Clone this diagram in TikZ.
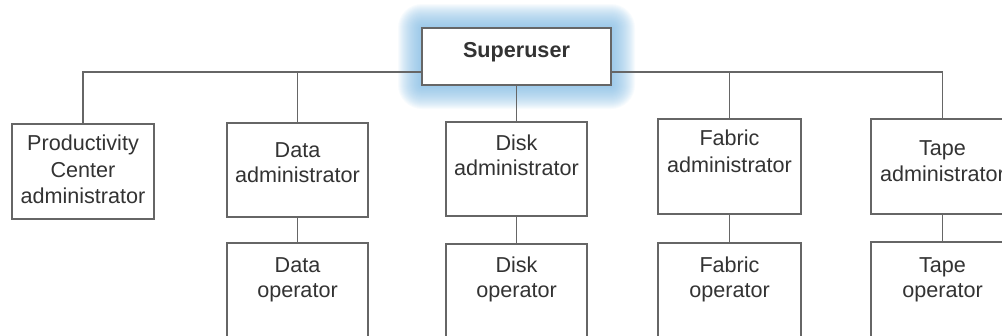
\documentclass[tikz,border=0pt]{standalone}
\usepackage{fontspec}
\setmainfont{Liberation Sans}
\definecolor{linegray}{HTML}{666666}
\definecolor{textgray}{HTML}{333333}
\definecolor{glowblue}{HTML}{7DB8E2}
\begin{document}
\begin{tikzpicture}[x=1pt,y=-1pt,
  conn/.style={draw=linegray, line width=1.8pt},
  box/.style={draw=linegray, line width=1.8pt, fill=white, inner sep=0pt,
              minimum width=#1, minimum height=94pt},
  box/.default=141pt,
  txt/.style={text=textgray, font=\fontsize{21.6}{26}\selectfont, anchor=base, inner sep=0pt},
  boldtxt/.style={txt, font=\fontsize{21.6}{26}\selectfont\bfseries}]

\clip (0,0) rectangle (1002,335);
\useasboundingbox (0,0) rectangle (1002,335);

% soft blue halo behind the top box
\foreach \i in {1,...,24}{
  \fill[glowblue, opacity=0.055, rounded corners=\i pt]
    (422-\i,28-\i) rectangle (611+\i,85+\i);
}

% boxes
\node[box=189pt, minimum height=57pt] (super) at (516.5,56.5) {};
\node[box=142pt, minimum height=95pt] (prod) at (83,171.5) {};
\node[box] (dataA) at (297.5,170) {};
\node[box] (diskA) at (516.5,169) {};
\node[box=143pt, minimum height=95pt] (fabA) at (729.5,166.5) {};
\node[box=143pt, minimum height=95pt] (tapeA) at (942.5,166.5) {};
\node[box, minimum height=102pt] (dataO) at (297.5,294) {};
\node[box, minimum height=102pt] (diskO) at (516.5,295) {};
\node[box=143pt, minimum height=102pt] (fabO) at (729.5,294) {};
\node[box=143pt, minimum height=102pt] (tapeO) at (942.5,293) {};

% connectors
\coordinate (bus) at (0,72);
\draw[conn] (prod.north) -- (prod.north |- bus) -- (tapeA.north |- bus) -- (tapeA.north);
\draw[conn] (dataA.north) -- (dataA.north |- bus);
\draw[conn] (fabA.north) -- (fabA.north |- bus);
\draw[conn] (super.south) -- (diskA.north);
\draw[conn] (dataA.south) -- (dataO.north);
\draw[conn] (diskA.south) -- (diskO.north);
\draw[conn] (fabA.south) -- (fabO.north);
\draw[conn] (tapeA.south) -- (tapeO.north);

% top box redrawn over the bus
\node[box=189pt, minimum height=57pt] (superTop) at (516.5,56.5) {};

% labels
\node[boldtxt] (tSuper) at (516.5,57) {Superuser};

\node[txt] (tProd1) at (83,150) {Productivity};
\node[txt] (tProd2) at (83,177) {Center};
\node[txt] (tProd3) at (83,203) {administrator};

\node[txt] (tDataA1) at (297.5,157) {Data};
\node[txt] (tDataA2) at (297.5,182) {administrator};
\node[txt] (tDiskA1) at (516.5,150) {Disk};
\node[txt] (tDiskA2) at (516.5,175) {administrator};
\node[txt] (tFabA1) at (729.5,145) {Fabric};
\node[txt] (tFabA2) at (729.5,172) {administrator};
\node[txt] (tTapeA1) at (942.5,155) {Tape};
\node[txt] (tTapeA2) at (942.5,181) {administrator};

\node[txt] (tDataO1) at (297.5,272) {Data};
\node[txt] (tDataO2) at (297.5,297) {operator};
\node[txt] (tDiskO1) at (516.5,272) {Disk};
\node[txt] (tDiskO2) at (516.5,297) {operator};
\node[txt] (tFabO1) at (729.5,272) {Fabric};
\node[txt] (tFabO2) at (729.5,297) {operator};
\node[txt] (tTapeO1) at (942.5,272) {Tape};
\node[txt] (tTapeO2) at (942.5,297) {operator};
\end{tikzpicture}
\end{document}
